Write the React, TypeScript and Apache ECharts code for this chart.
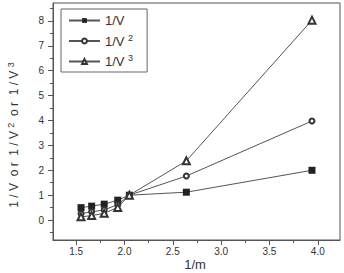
import React, { useEffect, useRef } from "react";
import * as echarts from "echarts";

// x positions (1/m) shared by all three series
const xValues = [1.55, 1.66, 1.79, 1.93, 2.05, 2.64, 3.94];
const invV = [0.5, 0.56, 0.64, 0.8, 1.0, 1.12, 2.0];
const invV2 = [0.26, 0.33, 0.41, 0.62, 1.0, 1.77, 3.98];
const invV3 = [0.13, 0.18, 0.27, 0.51, 1.0, 2.38, 8.03];

const seriesNames = ["1/V", "1/V2", "1/V3"];

const xTicks = [1.5, 2.0, 2.5, 3.0, 3.5, 4.0];
const xMinorTicks = [1.75, 2.25, 2.75, 3.25, 3.75];
const yTicks = [0, 1, 2, 3, 4, 5, 6, 7, 8];
const yMinorTicks = [-0.5, 0.5, 1.5, 2.5, 3.5, 4.5, 5.5, 6.5, 7.5, 8.5];

const xTitle = "1/m";
const yTitle = "1 / V  o r  1 / V {sup|2}  o r  1 / V {sup|3}";

const FONT = "'Liberation Sans', Arial, sans-serif";
const AXIS_COLOR = "#555";
const LINE_COLOR = "#555";

const pairs = (ys: number[]) => xValues.map((x, i) => [x, ys[i]]);

const supRich = {
  sup: { fontSize: 9, fontFamily: FONT, color: "#333", verticalAlign: "top", lineHeight: 16 },
};

const legendLabel = (name: string) => {
  if (name === "1/V2") return "1/V {sup|2}";
  if (name === "1/V3") return "1/V {sup|3}";
  return name;
};

export default function App() {
  const ref = useRef<HTMLDivElement>(null);

  useEffect(() => {
    if (!ref.current) return;
    const chart = echarts.init(ref.current, undefined, { renderer: "svg" });
    const xRange = { min: 1.26, max: 4.23 };
    const yRange = { min: -0.8, max: 8.72 };

    chart.setOption({
      animation: false,
      backgroundColor: "#fff",
      textStyle: { fontFamily: FONT },
      grid: {
        left: 53,
        top: 3,
        right: 4,
        bottom: 33,
        outerBoundsMode: "none",
        containLabel: false,
        show: true,
        borderColor: AXIS_COLOR,
        borderWidth: 1,
        backgroundColor: "transparent",
      },
      xAxis: [
        {
          type: "value",
          ...xRange,
          position: "bottom",
          axisLine: { show: true, onZero: false, lineStyle: { color: AXIS_COLOR, width: 1 } },
          axisTick: { show: true, length: 5, customValues: xTicks, lineStyle: { color: AXIS_COLOR } },
          axisLabel: {
            customValues: xTicks,
            formatter: (v: number) => v.toFixed(1),
            fontSize: 10,
            color: "#333",
            margin: 6,
            fontFamily: FONT,
          },
          splitLine: { show: false },
        },
        {
          type: "value",
          ...xRange,
          position: "bottom",
          axisLine: { show: false, onZero: false },
          axisTick: { show: true, length: 3, customValues: xMinorTicks, lineStyle: { color: AXIS_COLOR } },
          axisLabel: { show: false },
          splitLine: { show: false },
        },
      ],
      yAxis: [
        {
          type: "value",
          ...yRange,
          position: "left",
          axisLine: { show: true, onZero: false, lineStyle: { color: AXIS_COLOR, width: 1 } },
          axisTick: { show: true, length: 5, customValues: yTicks, lineStyle: { color: AXIS_COLOR } },
          axisLabel: {
            customValues: yTicks,
            fontSize: 10,
            color: "#333",
            margin: 9,
            fontFamily: FONT,
          },
          splitLine: { show: false },
        },
        {
          type: "value",
          ...yRange,
          position: "left",
          axisLine: { show: false, onZero: false },
          axisTick: { show: true, length: 3, customValues: yMinorTicks, lineStyle: { color: AXIS_COLOR } },
          axisLabel: { show: false },
          splitLine: { show: false },
        },
      ],
      legend: {
        orient: "vertical",
        left: 61,
        top: 9,
        padding: [5, 14, 4, 7],
        itemWidth: 31,
        itemHeight: 6,
        itemGap: 6,
        borderColor: "#666",
        borderWidth: 1,
        borderRadius: 0,
        data: seriesNames,
        formatter: legendLabel,
        itemStyle: { borderWidth: 1 },
        textStyle: { fontSize: 13, color: "#333", fontFamily: FONT, rich: supRich },
      },
      graphic: [
        {
          type: "text",
          x: 14,
          y: 135,
          rotation: Math.PI / 2,
          style: {
            text: yTitle,
            fontSize: 12,
            fontFamily: FONT,
            fill: "#333",
            align: "center",
            verticalAlign: "middle",
            rich: supRich,
          },
        },
        {
          type: "text",
          x: 195,
          y: 264,
          style: {
            text: xTitle,
            fontSize: 13,
            fontFamily: FONT,
            fill: "#333",
            align: "center",
            verticalAlign: "middle",
          },
        },
      ],
      series: [
        {
          name: seriesNames[0],
          type: "line",
          data: pairs(invV),
          symbol: "rect",
          symbolSize: 7,
          itemStyle: { color: "#222" },
          lineStyle: { color: LINE_COLOR, width: 1 },
        },
        {
          name: seriesNames[1],
          type: "line",
          data: pairs(invV2),
          symbol: "emptyCircle",
          symbolSize: 5,
          itemStyle: { color: "#333", borderWidth: 1 },
          lineStyle: { color: LINE_COLOR, width: 1 },
        },
        {
          name: seriesNames[2],
          type: "line",
          data: pairs(invV3),
          symbol: "emptyTriangle",
          symbolSize: 7,
          itemStyle: { color: "#333", borderWidth: 1 },
          lineStyle: { color: LINE_COLOR, width: 1 },
        },
      ],
    });

    return () => chart.dispose();
  }, []);

  return (
    <div
      ref={ref}
      style={{ position: "fixed", left: 0, top: 0, width: 344, height: 273 }}
    />
  );
}
